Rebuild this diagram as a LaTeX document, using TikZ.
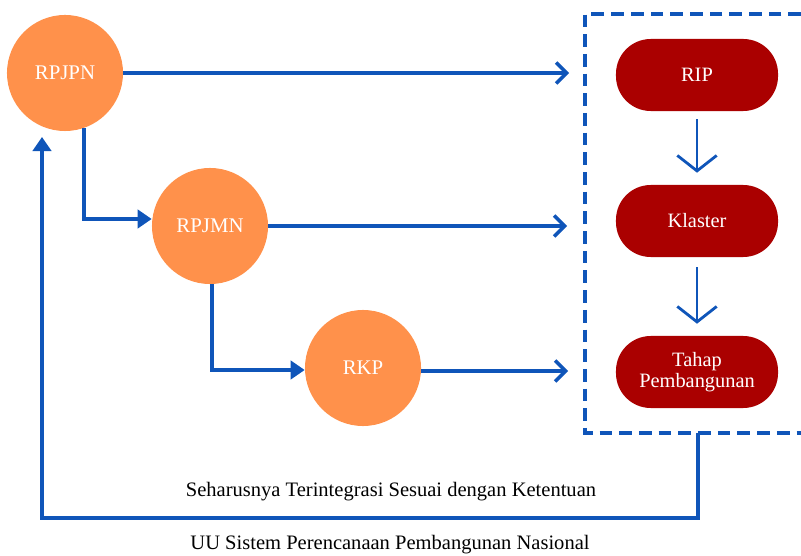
\documentclass[tikz,border=0pt]{standalone}
\usepackage{fontspec}
\setmainfont{Liberation Serif}
\usetikzlibrary{arrows.meta}
\definecolor{planorange}{RGB}{255,145,75}
\definecolor{planred}{RGB}{170,0,0}
\definecolor{planblue}{RGB}{15,85,185}
\tikzset{
  plancircle/.style={circle,fill=planorange,text=white,minimum size=2.9cm,inner sep=0pt,font=\fontsize{14.8}{17}\selectfont},
  planbox/.style={rounded corners=0.87cm,fill=planred,text=white,minimum width=4.05cm,minimum height=1.8cm,align=center,font=\fontsize{14.5}{17}\selectfont},
  link/.style={planblue,line width=2.8pt},
  openarrow/.style={link,-{Straight Barb[length=7.5pt,width=15pt,line width=2.4pt]}},
  fillarrow/.style={link,-{Triangle[length=10pt,width=13pt]}},
  downarrow/.style={planblue,line width=2pt,-{Straight Barb[length=11pt,width=28pt,line width=2pt]}}
}
\begin{document}
\begin{tikzpicture}[x=0.025cm,y=-0.025cm]
  \useasboundingbox (0,0) rectangle (801,556);

  % Circles on the left
  \node[plancircle] (rpjpn) at (65,73) {RPJPN};
  \node[plancircle] (rpjmn) at (210,226) {RPJMN};
  \node[plancircle] (rkp) at (363,368) {RKP};

  % Boxes inside the dashed frame
  \node[planbox] (rip) at (697,75) {RIP};
  \node[planbox] (klaster) at (697,221) {Klaster};
  \node[planbox] (tahap) at (697,372) {Tahap\\[-2pt]Pembangunan};

  % Dashed frame
  \draw[planblue,line width=2.8pt,dash pattern=on 9pt off 5pt] (801,14) -- (585,14) -- (585,433) -- (801,433);

  % Arrows to the frame
  \coordinate (in1) at (569,73);
  \coordinate (in2) at (567,226);
  \coordinate (in3) at (568,371);
  \draw[openarrow] (rpjpn.east) -- (in1);
  \draw[openarrow] (rpjmn.east |- in2) -- (in2);
  \draw[openarrow] (rkp.east |- in3) -- (in3);

  % Steps down the frame
  \draw[downarrow] ([yshift=-0.2cm]rip.south) -- ([yshift=0.3cm]klaster.north);
  \draw[downarrow] ([yshift=-0.25cm]klaster.south) -- ([yshift=0.3cm]tahap.north);

  % Elbows between the circles
  \coordinate (e1) at (83,219);
  \coordinate (e2) at (212,370);
  \draw[fillarrow] (rpjpn.-71) |- (rpjmn.west |- e1);
  \draw[fillarrow] (rpjmn.south -| e2) |- (rkp.west |- e2);

  % Loop back to RPJPN
  \coordinate (fbout) at (698,433);
  \coordinate (fbtip) at (42,137);
  \draw[fillarrow] (fbout) |- (42,518) -- (fbtip);

  % Captions
  \node[font=\fontsize{14.6}{17}\selectfont] (cap1) at (391,492) {Seharusnya Terintegrasi Sesuai dengan Ketentuan};
  \node[font=\fontsize{14.6}{17}\selectfont] (cap2) at (390,545) {UU Sistem Perencanaan Pembangunan Nasional};
\end{tikzpicture}
\end{document}
